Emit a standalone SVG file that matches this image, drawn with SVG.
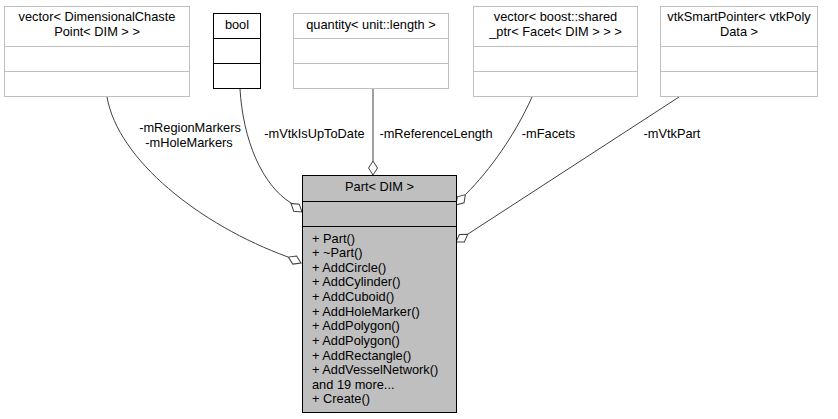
<svg xmlns="http://www.w3.org/2000/svg" width="838" height="419" viewBox="0 0 838 419">
<style>
text{font-family:"Liberation Sans",Arial,Helvetica,sans-serif;font-size:12.8px;fill:#000}
.c{text-anchor:middle}
.gb{fill:#fff;stroke:#bfbfbf;stroke-width:1}
.bb{fill:#fff;stroke:#000;stroke-width:1}
.pb{fill:#bfbfbf;stroke:#000;stroke-width:1}
.gl{stroke:#bfbfbf;stroke-width:1}
.bl{stroke:#000;stroke-width:1}
.e{fill:none;stroke:#404040;stroke-width:1}
.d{fill:#fff;stroke:#404040;stroke-width:1}
</style>
<defs>
<polygon id="dia" points="0,0 -7,-4.5 -14,0 -7,4.5"/>
</defs>
<rect width="838" height="419" fill="#fff"/>
<g id="connectors">
<path class="e" d="M107,97 C118,160 200,225 288,257"/>
<use href="#dia" class="d" transform="translate(301,263) rotate(25)"/>
<text class="c" x="190" y="132">-mRegionMarkers</text>
<text class="c" x="189" y="147">-mHoleMarkers</text>
<path class="e" d="M240,89 C243,140 262,185 291,203"/>
<use href="#dia" class="d" transform="translate(302,212) rotate(38)"/>
<text class="c" x="314.5" y="138">-mVtkIsUpToDate</text>
<path class="e" d="M373,89 L373,161"/>
<use href="#dia" class="d" transform="translate(373,175) rotate(90)"/>
<text class="c" x="436" y="138">-mReferenceLength</text>
<path class="e" d="M532,97 C515,135 490,170 466,194"/>
<use href="#dia" class="d" transform="translate(456,205) rotate(132)"/>
<text class="c" x="548.5" y="138">-mFacets</text>
<path class="e" d="M679,97 L468,234"/>
<use href="#dia" class="d" transform="translate(456,242) rotate(147)"/>
<text class="c" x="672" y="138">-mVtkPart</text>
</g>
<g id="vecPoint">
<rect class="gb" x="4.5" y="6.5" width="185" height="90"/>
<line class="gl" x1="4.5" y1="46.5" x2="189.5" y2="46.5"/>
<line class="gl" x1="4.5" y1="71.5" x2="189.5" y2="71.5"/>
<text class="c" x="97" y="21">vector&lt; DimensionalChaste</text>
<text class="c" x="97" y="36">Point&lt; DIM &gt; &gt;</text>
</g>
<g id="bool">
<rect class="bb" x="213.5" y="13.5" width="47" height="75"/>
<line class="bl" x1="213.5" y1="38.5" x2="260.5" y2="38.5"/>
<line class="bl" x1="213.5" y1="63.5" x2="260.5" y2="63.5"/>
<text class="c" x="237" y="29">bool</text>
</g>
<g id="quantity">
<rect class="gb" x="293.5" y="13.5" width="155" height="75"/>
<line class="gl" x1="293.5" y1="38.5" x2="448.5" y2="38.5"/>
<line class="gl" x1="293.5" y1="63.5" x2="448.5" y2="63.5"/>
<text class="c" x="371" y="29">quantity&lt; unit::length &gt;</text>
</g>
<g id="vecFacet">
<rect class="gb" x="473.5" y="6.5" width="164" height="90"/>
<line class="gl" x1="473.5" y1="46.5" x2="637.5" y2="46.5"/>
<line class="gl" x1="473.5" y1="71.5" x2="637.5" y2="71.5"/>
<text class="c" x="555.5" y="21">vector&lt; boost::shared</text>
<text class="c" x="555.5" y="36">_ptr&lt; Facet&lt; DIM &gt; &gt; &gt;</text>
</g>
<g id="vtkPtr">
<rect class="gb" x="660.5" y="6.5" width="157" height="90"/>
<line class="gl" x1="660.5" y1="46.5" x2="817.5" y2="46.5"/>
<line class="gl" x1="660.5" y1="71.5" x2="817.5" y2="71.5"/>
<text class="c" x="739" y="21">vtkSmartPointer&lt; vtkPoly</text>
<text class="c" x="739" y="36">Data &gt;</text>
</g>
<g id="part">
<rect class="pb" x="302.5" y="175.5" width="154" height="237"/>
<line class="bl" x1="302.5" y1="201.5" x2="456.5" y2="201.5"/>
<line class="bl" x1="302.5" y1="226.5" x2="456.5" y2="226.5"/>
<text class="c" x="379.5" y="191">Part&lt; DIM &gt;</text>
<text x="312" y="242.5">+ Part()</text>
<text x="312" y="257.1">+ ~Part()</text>
<text x="312" y="271.8">+ AddCircle()</text>
<text x="312" y="286.4">+ AddCylinder()</text>
<text x="312" y="301">+ AddCuboid()</text>
<text x="312" y="315.7">+ AddHoleMarker()</text>
<text x="312" y="330.3">+ AddPolygon()</text>
<text x="312" y="344.9">+ AddPolygon()</text>
<text x="312" y="359.5">+ AddRectangle()</text>
<text x="312" y="374.2">+ AddVesselNetwork()</text>
<text x="312" y="388.8">and 19 more...</text>
<text x="312" y="403.4">+ Create()</text>
</g>
</svg>
